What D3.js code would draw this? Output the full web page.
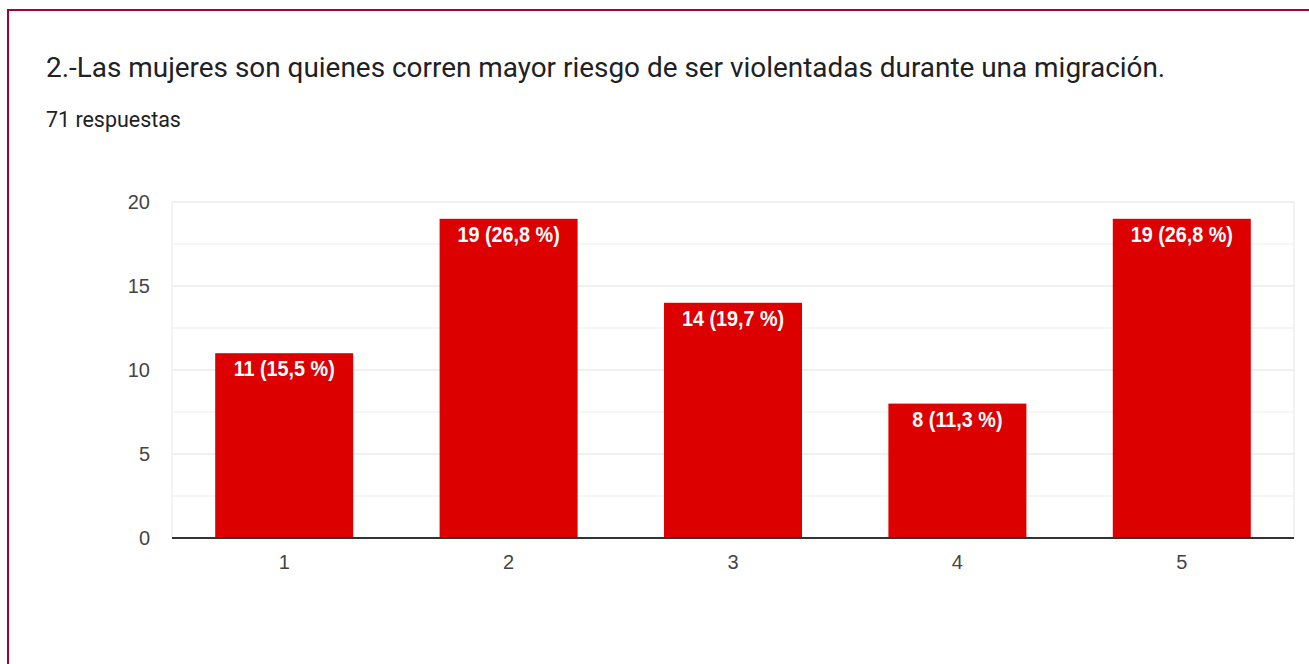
<!DOCTYPE html>
<html>
<head>
<meta charset="utf-8">
<script src="https://cdn.jsdelivr.net/npm/d3@7"></script>
<style>
  html, body { margin: 0; padding: 0; background: #fff; }
  svg { display: block; }
</style>
</head>
<body>
<svg id="chart" width="1309" height="664"></svg>
<script>
const title = "2.-Las mujeres son quienes corren mayor riesgo de ser violentadas durante una migración.";
const subtitle = "71 respuestas";
const categories = ["1", "2", "3", "4", "5"];
const counts = [11, 19, 14, 8, 19];
const labels = ["11 (15,5 %)", "19 (26,8 %)", "14 (19,7 %)", "8 (11,3 %)", "19 (26,8 %)"];
const yTicks = [0, 5, 10, 15, 20];
const yMinorTicks = [2.5, 7.5, 12.5, 17.5];

(function () {
const svg = d3.select("#chart");

svg.append("rect")
  .attr("x", 8).attr("y", 10)
  .attr("width", 1400).attr("height", 800)
  .attr("fill", "none")
  .attr("stroke", "#a3003c")
  .attr("stroke-width", 2);

function fitText(sel, target) {
  const w = sel.node().getComputedTextLength();
  const fs = parseFloat(sel.attr("font-size"));
  sel.attr("font-size", fs * target / w);
}

const t = svg.append("text")
  .attr("x", 46).attr("y", 77)
  .attr("font-family", "Roboto, sans-serif")
  .attr("font-size", 24)
  .attr("fill", "#202124")
  .text(title);
fitText(t, 1120);

const st = svg.append("text")
  .attr("x", 46).attr("y", 127)
  .attr("font-family", "Roboto, sans-serif")
  .attr("font-size", 19)
  .attr("fill", "#202124")
  .text(subtitle);
fitText(st, 135);

const pL = 172, pR = 1294, pT = 202, pB = 538;

const x = d3.scaleBand()
  .domain(categories)
  .range([pL, pR])
  .paddingInner(0.385)
  .paddingOuter(0.1925);

const y = d3.scaleLinear().domain([0, 20]).range([pB, pT]);

const g = svg.append("g");

g.selectAll("line.minor").data(yMinorTicks).enter().append("line")
  .attr("x1", pL).attr("x2", pR)
  .attr("y1", d => y(d)).attr("y2", d => y(d))
  .attr("stroke", "#f3f3f3").attr("stroke-width", 1.5);

g.selectAll("line.major").data(yTicks.filter(d => d > 0)).enter().append("line")
  .attr("x1", pL).attr("x2", pR)
  .attr("y1", d => y(d)).attr("y2", d => y(d))
  .attr("stroke", "#ebebeb").attr("stroke-width", 1.5);

[pL, pR].forEach(xx => {
  g.append("line")
    .attr("x1", xx).attr("x2", xx)
    .attr("y1", pT).attr("y2", pB)
    .attr("stroke", "#efefef").attr("stroke-width", 1.5);
});

const yAxis = d3.axisLeft(y).tickValues(yTicks).tickSize(0).tickPadding(22);
const ya = svg.append("g").attr("transform", `translate(${pL},0)`).call(yAxis);
ya.select(".domain").remove();
ya.selectAll("text")
  .attr("font-family", "Liberation Sans, Arial, sans-serif")
  .attr("font-size", 20)
  .attr("fill", "#444");

svg.selectAll("rect.bar").data(counts).enter().append("rect")
  .attr("class", "bar")
  .attr("x", (d, i) => x(categories[i]))
  .attr("y", d => y(d))
  .attr("width", x.bandwidth())
  .attr("height", d => y(0) - y(d))
  .attr("fill", "#dc0000");

svg.selectAll("text.blabel").data(counts).enter().append("text")
  .attr("class", "blabel")
  .attr("transform", (d, i) => `translate(${x(categories[i]) + x.bandwidth() / 2},${y(d) + 23}) scale(0.9,1)`)
  .attr("text-anchor", "middle")
  .attr("font-family", "Liberation Sans, Arial, sans-serif")
  .attr("font-weight", "bold")
  .attr("font-size", 22)
  .attr("fill", "#ffffff")
  .text((d, i) => labels[i]);

const xAxis = d3.axisBottom(x).tickSize(0).tickPadding(17);
const xa = svg.append("g").attr("transform", `translate(0,${pB})`).call(xAxis);
xa.select(".domain").remove();
xa.selectAll("text")
  .attr("font-family", "Liberation Sans, Arial, sans-serif")
  .attr("font-size", 20)
  .attr("fill", "#444");

svg.append("line")
  .attr("x1", pL).attr("x2", pR)
  .attr("y1", pB).attr("y2", pB)
  .attr("stroke", "#333").attr("stroke-width", 2);
})();
</script>
</body>
</html>
